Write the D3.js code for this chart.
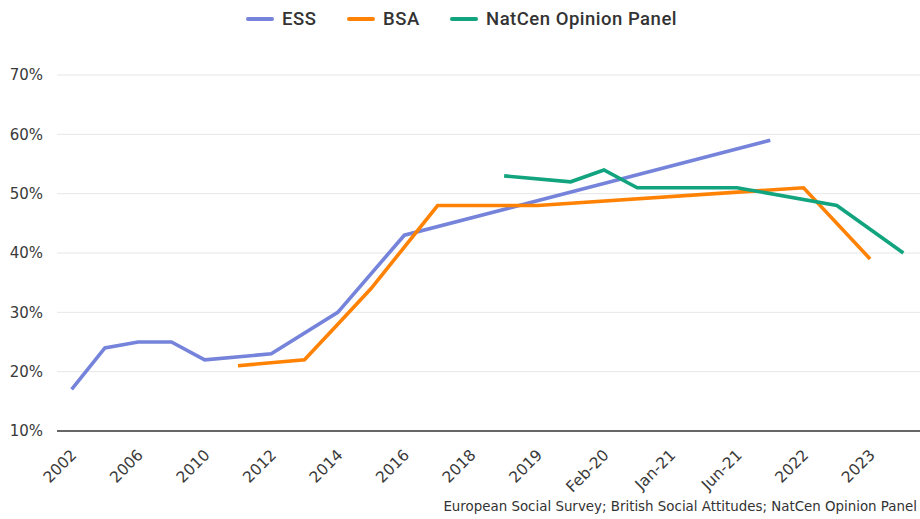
<!DOCTYPE html>
<html>
<head>
<meta charset="utf-8">
<script src="https://cdn.jsdelivr.net/npm/d3@7"></script>
<style>
  body { margin: 0; background: #fff; }
  svg { display: block; font-family: "DejaVu Sans", sans-serif; }
</style>
</head>
<body>
<svg width="920" height="519"></svg>
<script>
const width = 920, height = 519;
const svg = d3.select("svg");

// x categories (only every other one is labelled on the axis)
const categories = [
  "2002", "2004", "2006", "2008", "2010", "2011", "2012", "2013", "2014", "2015",
  "2016", "2017", "2018", "Jul-18", "2019", "Nov-19", "Feb-20", "Jun-20", "Jan-21", "Mar-21",
  "Jun-21", "Oct-21", "2022", "Nov-22", "2023", "Dec-23"
];

// values in %, null = no survey at that point
const ess = [17, 24, 25, 25, 22, null, 23, null, 30, null,
  43, null, null, null, null, null, null, null, null, null,
  null, 59, null, null, null, null];
const bsa = [null, null, null, null, null, 21, null, 22, 28, 34,
  41, 48, 48, null, 48, null, null, null, null, null,
  null, null, 51, null, 39, null];
const natcen = [null, null, null, null, null, null, null, null, null, null,
  null, null, null, 53, null, 52, 54, 51, null, null,
  51, null, null, 48, null, 40];

const yTicks = [10, 20, 30, 40, 50, 60, 70];
const source = "European Social Survey; British Social Attitudes; NatCen Opinion Panel";

const series = [
  { name: "ESS", values: ess, color: "#7584da" },
  { name: "BSA", values: bsa, color: "#ff8205" },
  { name: "NatCen Opinion Panel", values: natcen, color: "#12a47e" }
];

const x = d3.scalePoint()
  .domain(categories)
  .range([55, 920])
  .padding(0.5);

const y = d3.scaleLinear()
  .domain([10, 70])
  .range([431, 75]);

// gridlines + y labels
const yAxis = svg.append("g");
yAxis.selectAll("line")
  .data(yTicks)
  .join("line")
  .attr("x1", 57)
  .attr("x2", width)
  .attr("y1", d => y(d))
  .attr("y2", d => y(d))
  .attr("stroke", d => d === 10 ? "#333" : "#e6e6e6")
  .attr("stroke-width", d => d === 10 ? 1.5 : 1);

yAxis.selectAll("text")
  .data(yTicks)
  .join("text")
  .attr("x", 43)
  .attr("y", d => y(d))
  .attr("dy", "0.36em")
  .attr("text-anchor", "end")
  .attr("font-size", 15)
  .attr("fill", "#3a3a3a")
  .text(d => d + "%");

// x labels, rotated
svg.append("g")
  .selectAll("text")
  .data(categories.filter((d, i) => i % 2 === 0))
  .join("text")
  .attr("transform", d => `translate(${x(d) - 2},${448}) rotate(-45)`)
  .attr("text-anchor", "end")
  .attr("dy", "0.72em")
  .attr("font-size", 15.5)
  .attr("fill", "#3a3a3a")
  .text(d => d);

// lines
const line = d3.line()
  .x(d => x(d.cat))
  .y(d => y(d.v));

svg.append("g")
  .selectAll("path")
  .data(series)
  .join("path")
  .attr("d", s => line(categories.map((c, i) => ({ cat: c, v: s.values[i] })).filter(p => p.v != null)))
  .attr("fill", "none")
  .attr("stroke", s => s.color)
  .attr("stroke-width", 3.6)
  .attr("stroke-linejoin", "miter")
  .attr("stroke-linecap", "butt");

// legend
const legendX = [248, 349, 452];
const legend = svg.append("g")
  .selectAll("g")
  .data(series)
  .join("g")
  .attr("transform", (d, i) => `translate(${legendX[i]},19)`);

legend.append("line")
  .attr("x1", 0)
  .attr("x2", 24)
  .attr("stroke", d => d.color)
  .attr("stroke-width", 4)
  .attr("stroke-linecap", "round");

legend.append("text")
  .attr("x", 34)
  .attr("dy", "0.35em")
  .attr("font-family", "Roboto, sans-serif")
  .attr("font-size", 18.5)
  .attr("font-weight", 500)
  .attr("letter-spacing", 0.5)
  .attr("fill", "#333")
  .text(d => d.name);

// source
svg.append("text")
  .attr("x", 917)
  .attr("y", 511)
  .attr("text-anchor", "end")
  .attr("font-size", 13.4)
  .attr("fill", "#333")
  .text(source);
</script>
</body>
</html>
